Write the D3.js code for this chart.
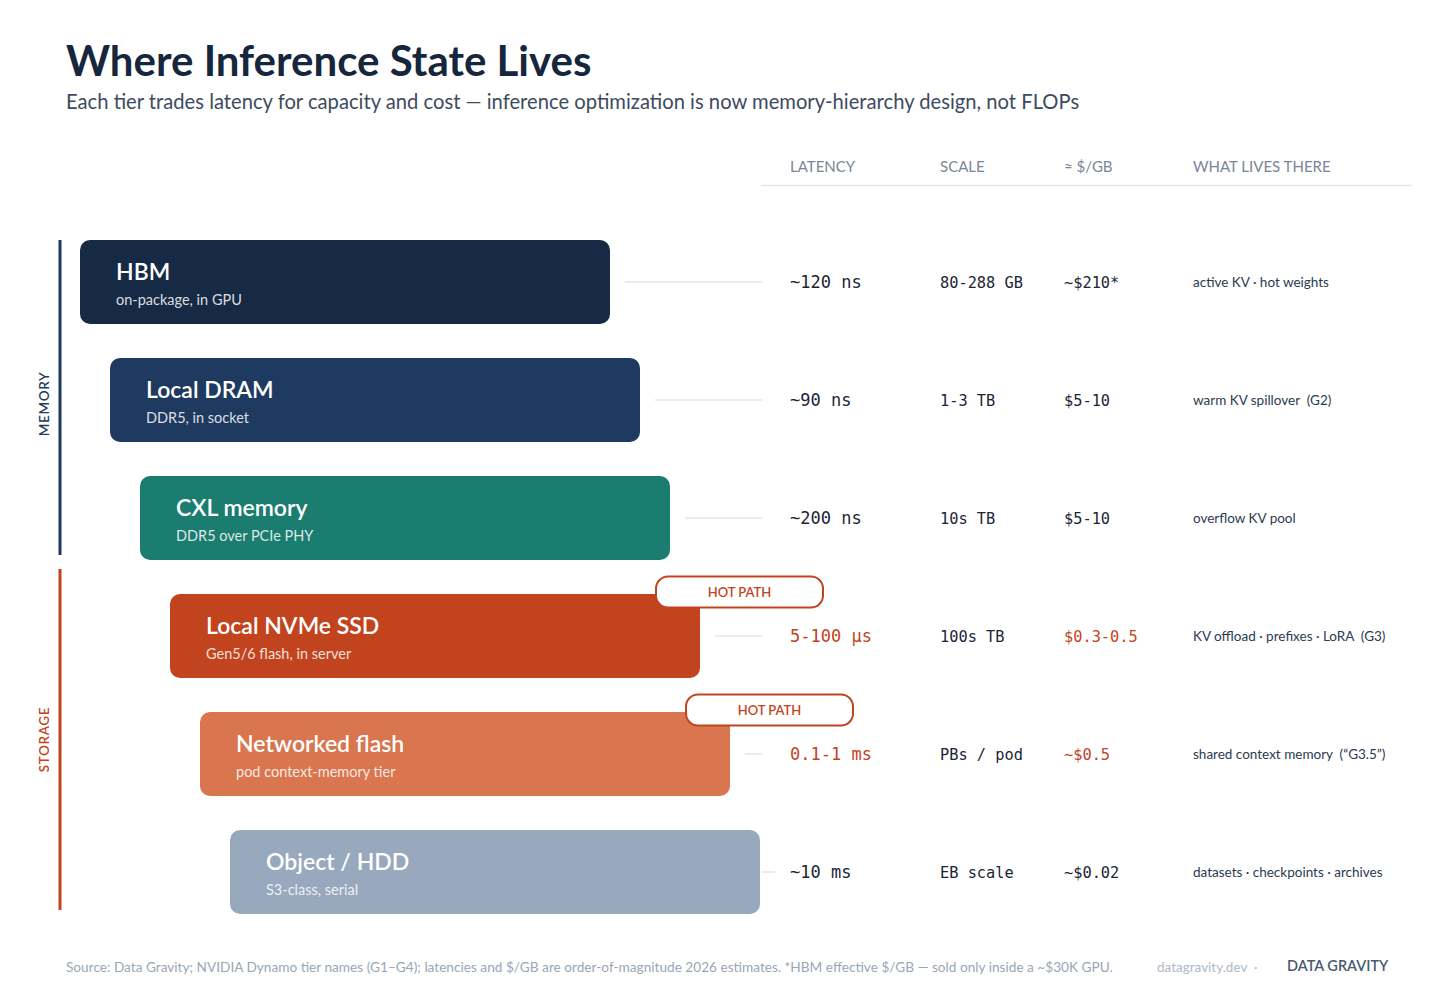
<!DOCTYPE html>
<html><head><meta charset="utf-8">
<script src="https://cdn.jsdelivr.net/npm/d3@7"></script>
<style>
html,body{margin:0;padding:0;background:#fff;}
svg{display:block;}
text{white-space:pre;}
</style></head>
<body>
<svg id="c" width="1456" height="989"></svg>
<script>
const tiers = ["HBM","Local DRAM","CXL memory","Local NVMe SSD","Networked flash","Object / HDD"];
const subtitles = ["on-package, in GPU","DDR5, in socket","DDR5 over PCIe PHY","Gen5/6 flash, in server","pod context-memory tier","S3-class, serial"];
const latency = ["~120 ns","~90 ns","~200 ns","5-100 μs","0.1-1 ms","~10 ms"];
const scaleCol = ["80-288 GB","1-3 TB","10s TB","100s TB","PBs / pod","EB scale"];
const costPerGB = ["~$210*","$5-10","$5-10","$0.3-0.5","~$0.5","~$0.02"];
const livesThere = ["active KV · hot weights","warm KV spillover  (G2)","overflow KV pool","KV offload · prefixes · LoRA  (G3)","shared context memory  (“G3.5”)","datasets · checkpoints · archives"];
const hotPath = [false,false,false,true,true,false];
const groups = ["MEMORY","STORAGE"];
const groupOf = ["MEMORY","MEMORY","MEMORY","STORAGE","STORAGE","STORAGE"];
const headers = ["LATENCY","SCALE","≈ $/GB","WHAT LIVES THERE"];

const fills = ["#172a45","#1f3a60","#1a7d70","#c2441e","#d97650","#98a9bd"];
const hot = "#c2441e";
const groupColor = {MEMORY:"#1f3a60", STORAGE:"#c2441e"};
const sans = "Lato, 'Open Sans', sans-serif";
const mono = "'DejaVu Sans Mono', monospace";

const svg = d3.select("#c");

// title
svg.append("text").attr("x",66).attr("y",76).text("Where Inference State Lives")
  .attr("font-family",sans).attr("font-weight",700).attr("font-size",42).attr("fill","#16263d");
svg.append("text").attr("x",66).attr("y",109)
  .text("Each tier trades latency for capacity and cost — inference optimization is now memory-hierarchy design, not FLOPs")
  .attr("font-family",sans).attr("font-size",20.2).attr("fill","#3d4b5f");

// scales
const idx = d3.range(tiers.length);
const y = d3.scaleBand().domain(idx).range([240, 914]).paddingInner(34/118).paddingOuter(0);
const xStart = d3.scaleLinear().domain([0, tiers.length-1]).range([80, 230]);
const barW = 530;
const colX = {"LATENCY":790,"SCALE":940,"≈ $/GB":1064,"WHAT LIVES THERE":1193};

// header
svg.append("g").selectAll("text").data(headers).join("text")
  .attr("x",d=>colX[d]).attr("y",172).text(d=>d)
  .attr("font-family",sans).attr("font-size",15).attr("fill","#7a8698");
svg.append("line").attr("x1",761).attr("x2",1412).attr("y1",185.5).attr("y2",185.5)
  .attr("stroke","#e3e6eb").attr("stroke-width",1.5);

// group brackets
groups.forEach(g=>{
  const members = idx.filter(i=>groupOf[i]===g);
  const y0 = y(members[0]);
  const y1 = y(members[members.length-1]) + y.bandwidth();
  const top = g==="MEMORY" ? y0 : y0 - 25;
  const bot = g==="MEMORY" ? y1 - 5 : y1 - 4;
  svg.append("line").attr("x1",60).attr("x2",60).attr("y1",top).attr("y2",bot)
    .attr("stroke",groupColor[g]).attr("stroke-width",3);
  const cy = g==="MEMORY" ? (y0+y1)/2 + 4 : (top+bot)/2;
  svg.append("text").attr("transform",`translate(49,${cy}) rotate(-90)`)
    .attr("text-anchor","middle").text(g)
    .attr("font-family",sans).attr("font-weight",600).attr("font-size",13.5).attr("letter-spacing",0.6)
    .attr("fill",groupColor[g]);
});

// rows
const rows = svg.append("g").selectAll("g").data(idx).join("g");
rows.append("line")
  .attr("x1",i=>xStart(i)+barW+15).attr("x2",762)
  .attr("y1",i=>y(i)+y.bandwidth()/2).attr("y2",i=>y(i)+y.bandwidth()/2)
  .attr("stroke","#e3e6eb").attr("stroke-width",1.5);
rows.append("rect")
  .attr("x",i=>xStart(i)).attr("y",i=>y(i)).attr("width",barW).attr("height",y.bandwidth())
  .attr("rx",10).attr("fill",i=>fills[i]);
rows.append("text").attr("x",i=>xStart(i)+36).attr("y",i=>y(i)+40).text(i=>tiers[i])
  .attr("font-family",sans).attr("font-weight",600).attr("font-size",23).attr("fill","#fff");
rows.append("text").attr("x",i=>xStart(i)+36).attr("y",i=>y(i)+65).text(i=>subtitles[i])
  .attr("font-family",sans).attr("font-size",14.5).attr("fill","rgba(255,255,255,0.85)");

// hot path badges
const hp = rows.filter(i=>hotPath[i]);
hp.append("rect")
  .attr("x",i=>xStart(i)+barW-44).attr("y",i=>y(i)-17.5).attr("width",167).attr("height",31)
  .attr("rx",12).attr("fill","#fff").attr("stroke",hot).attr("stroke-width",2);
hp.append("text").attr("x",i=>xStart(i)+barW-44+83.5).attr("y",i=>y(i)+2.5)
  .attr("text-anchor","middle").text("HOT PATH")
  .attr("font-family",sans).attr("font-weight",600).attr("font-size",13).attr("fill",hot);

// data columns
const midY = i=>y(i)+y.bandwidth()/2+6;
rows.append("text").attr("x",colX["LATENCY"]).attr("y",midY).text(i=>latency[i])
  .attr("font-family",mono).attr("font-size",17).attr("fill",i=>hotPath[i]?hot:"#1a2536");
rows.append("text").attr("x",colX["SCALE"]).attr("y",midY).text(i=>scaleCol[i])
  .attr("font-family",mono).attr("font-size",15.3).attr("fill","#1a2536");
rows.append("text").attr("x",colX["≈ $/GB"]).attr("y",midY).text(i=>costPerGB[i])
  .attr("font-family",mono).attr("font-size",15.3).attr("fill",i=>hotPath[i]?hot:"#1a2536");
rows.append("text").attr("x",colX["WHAT LIVES THERE"]).attr("y",i=>midY(i)-1).text(i=>livesThere[i])
  .attr("font-family",sans).attr("font-size",13.5).attr("fill","#2b3a4f");

// footer
svg.append("text").attr("x",66).attr("y",972)
  .text("Source: Data Gravity; NVIDIA Dynamo tier names (G1–G4); latencies and $/GB are order-of-magnitude 2026 estimates. *HBM effective $/GB — sold only inside a ~$30K GPU.")
  .attr("font-family",sans).attr("font-size",13.65).attr("fill","#9aa6b6");
svg.append("text").attr("x",1157).attr("y",972).text("datagravity.dev  ·")
  .attr("font-family",sans).attr("font-size",13.5).attr("fill","#b0bac6");
svg.append("text").attr("x",1287).attr("y",971).text("DATA GRAVITY")
  .attr("font-family",sans).attr("font-weight",600).attr("font-size",14.5).attr("fill","#4a5a70");
</script>
</body></html>
